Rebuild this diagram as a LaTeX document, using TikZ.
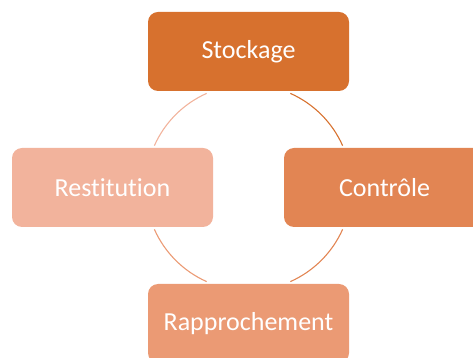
\documentclass[tikz,border=0pt]{standalone}
\usepackage{fontspec}
\setmainfont{Carlito}[Ligatures=NoCommon]
\usepackage{tikz}
\definecolor{stock}{HTML}{D7712E}
\definecolor{contr}{HTML}{E28553}
\definecolor{rappr}{HTML}{EB9A74}
\definecolor{resti}{HTML}{F2B39C}
\tikzset{
	box/.style={rounded corners=10pt,fill=#1,minimum width=201pt,minimum height=79pt,inner sep=0pt,text=white,font=\fontsize{26}{30}\selectfont},
	ring/.style={draw=#1,line width=1.1pt}
}

\begin{document}
\begin{tikzpicture}[x=1pt,y=1pt]
						\useasboundingbox (0,0) rectangle (473,358);
						\clip (0,0) rectangle (473,358);
						\coordinate (c) at (248.5,170.5);

						\draw [ring=resti] (c) ++(114:103) arc[start angle=114,end angle=156,radius=103];
						\draw [ring=stock] (c) ++(24:103) arc[start angle=24,end angle=66,radius=103];
						\draw [ring=contr] (c) ++(-66:103) arc[start angle=-66,end angle=-24,radius=103];
						\draw [ring=rappr] (c) ++(-156:103) arc[start angle=-156,end angle=-114,radius=103];

						\node [box=stock] (stockage) at (248.5,306.5) {Stockage};
						\node [box=contr] (controle) at (384.5,170.5) {Contrôle};
						\node [box=rappr] (rapprochement) at (248.5,34.5) {Rapprochement};
						\node [box=resti] (restitution) at (112.5,170.5) {Restitution};
					\end{tikzpicture}
\end{document}
